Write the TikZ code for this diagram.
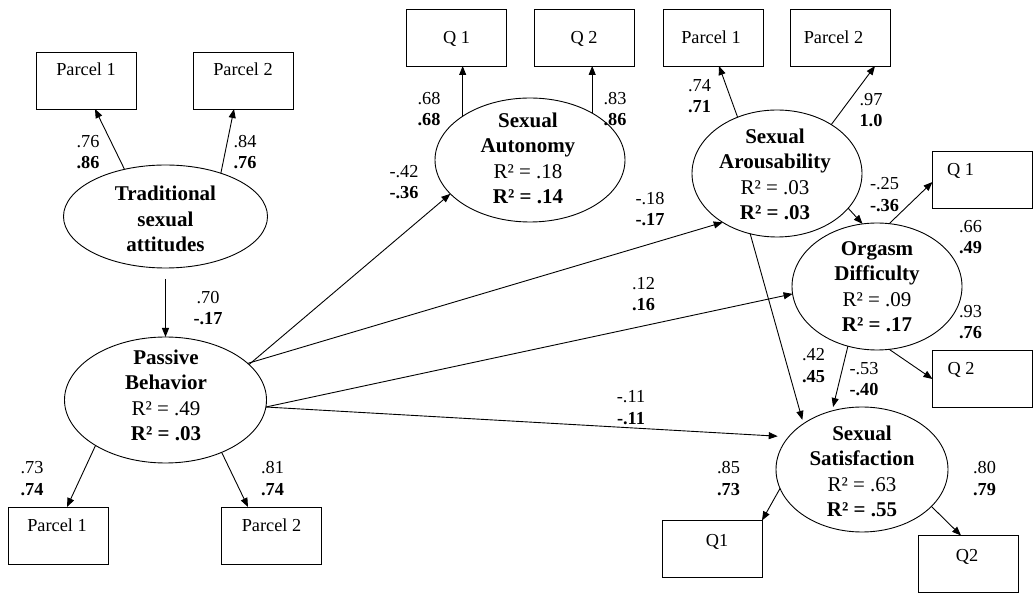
\documentclass[tikz,border=0pt]{standalone}
\usepackage{fontspec}
\setmainfont{Liberation Serif}
\usetikzlibrary{arrows.meta,shapes.geometric}
\begin{document}
\begin{tikzpicture}[x=1pt,y=-1pt,
  lat/.style={ellipse,draw,line width=0.9pt,inner sep=0pt,outer sep=0pt},
  box/.style={rectangle,draw,line width=0.9pt,minimum width=100pt,minimum height=57pt,inner sep=0pt,outer sep=0pt},
  boxtext/.style={anchor=base,inner sep=0pt,font=\fontsize{18.3}{22}\selectfont},
  lattext/.style={align=center,inner sep=0pt,font=\fontsize{21}{25.5}\selectfont},
  coef/.style={align=center,inner sep=0pt,font=\fontsize{18.3}{21.5}\selectfont},
  arr/.style={line width=0.9pt,-{Triangle[length=9pt,width=7pt]}},
]
\path[use as bounding box,fill=white] (0,0) rectangle (1034,593);

% latent variables
\node[lat,minimum width=204pt,minimum height=103pt] (tsa) at (165.5,216.5) {};
\node[lat,minimum width=202pt,minimum height=126pt] (pb) at (165.5,400) {};
\node[lat,minimum width=190pt,minimum height=124pt] (sa) at (530,160) {};
\node[lat,minimum width=170pt,minimum height=127pt] (ar) at (777,173.5) {};
\node[lat,minimum width=170pt,minimum height=127pt] (od) at (877,286.5) {};
\node[lat,minimum width=172pt,minimum height=125pt] (ss) at (862,469.5) {};

\node[lattext] (tsat) at (165.5,219) {\textbf{Traditional}\\\textbf{sexual}\\\textbf{attitudes}};
\node[lattext] (pbt) at (166,395.5) {\textbf{Passive}\\\textbf{Behavior}\\R² = .49\\\textbf{R² = .03}};
\node[lattext] (sat) at (528,158.5) {\textbf{Sexual}\\\textbf{Autonomy}\\R² = .18\\\textbf{R² = .14}};
\node[lattext] (art) at (775,174.5) {\textbf{Sexual}\\\textbf{Arousability}\\R² = .03\\\textbf{R² = .03}};
\node[lattext] (odt) at (877,286.5) {\textbf{Orgasm}\\\textbf{Difficulty}\\R² = .09\\\textbf{R² = .17}};
\node[lattext] (sst) at (862,471.5) {\textbf{Sexual}\\\textbf{Satisfaction}\\R² = .63\\\textbf{R² = .55}};

% indicators
\node[box] (tp1) at (86.5,80.5) {};
\node[box] (tp2) at (243,80.5) {};
\node[box] (bp1) at (58,535.5) {};
\node[box] (bp2) at (271.5,535.5) {};
\node[box] (aq1) at (456.5,37.5) {};
\node[box] (aq2) at (584,37.5) {};
\node[box] (rp1) at (713,37.5) {};
\node[box] (rp2) at (840.5,37.5) {};
\node[box] (oq1) at (982.5,180) {};
\node[box] (oq2) at (982.5,379) {};
\node[box] (sq1) at (712,549) {};
\node[box] (sq2) at (968,564) {};

\node[boxtext] (tp1t) at (86,76) {Parcel 1};
\node[boxtext] (tp2t) at (243,76) {Parcel 2};
\node[boxtext] (bp1t) at (57,531) {Parcel 1};
\node[boxtext] (bp2t) at (271.5,531) {Parcel 2};
\node[boxtext] (aq1t) at (456.5,44) {Q 1};
\node[boxtext] (aq2t) at (584,44) {Q 2};
\node[boxtext] (rp1t) at (711,44) {Parcel 1};
\node[boxtext] (rp2t) at (833.5,44) {Parcel 2};
\node[boxtext] (oq1t) at (960.5,176) {Q 1};
\node[boxtext] (oq2t) at (961,375) {Q 2};
\node[boxtext] (sq1t) at (717,546) {Q1};
\node[boxtext] (sq2t) at (967,561) {Q2};

% connectors
\draw[arr] (tsa.131) -- ([xshift=8.5pt]tp1.south);
\draw[arr] (tsa.38) -- ([xshift=-9pt]tp2.south);
\draw[arr,shorten <=11pt] (tsa.south) -- (pb.north);
\draw[arr] (pb.213) -- ([xshift=9pt]bp1.north);
\draw[arr] (pb.317) -- ([xshift=-23.5pt]bp2.north);
\draw[arr] (pb.23) -- (sa.203);
\draw[arr] (pb.24) -- (ar.222);
\draw[arr] (pb.356) -- (od.185);
\draw[arr,shorten >=11pt] (pb.356) -- (ss.156);
\draw[arr] (sa.147) -- (sa.147 |- aq1.south);
\draw[arr] (sa.37) -- (sa.37 |- aq2.south);
\draw[arr] (ar.125) -- ([xshift=6pt]rp1.south);
\draw[arr] (ar.42) -- ([xshift=34.5pt]rp2.south);
\draw[arr] (ar.334) -- (od.103);
\draw[arr,shorten >=4pt] (ar.246) -- (ss.142);
\draw[arr] (od.79) -- ([yshift=-2pt]oq1.west);
\draw[arr] (od.281) -- (oq2.west);
\draw[arr,shorten >=4pt] (od.244) -- (ss.117);
\draw[arr] (ss.193) -- (sq1.north east);
\draw[arr] (ss.332) -- ([xshift=-7pt]sq2.north);

% coefficients
\node[coef] (c1) at (88,152) {.76\\\textbf{.86}};
\node[coef] (c2) at (245,152) {.84\\\textbf{.76}};
\node[coef] (c3) at (208,308) {.70\\\textbf{-.17}};
\node[coef] (c4) at (32,478.5) {.73\\\textbf{.74}};
\node[coef] (c5) at (272.5,478.5) {.81\\\textbf{.74}};
\node[coef] (c6) at (429,109) {.68\\\textbf{.68}};
\node[coef] (c7) at (615,109) {.83\\\textbf{.86}};
\node[coef] (c8) at (404,182) {-.42\\\textbf{-.36}};
\node[coef] (c9) at (699.5,96) {.74\\\textbf{.71}};
\node[coef] (c10) at (871,110) {.97\\\textbf{1.0}};
\node[coef] (c11) at (650,209) {-.18\\\textbf{-.17}};
\node[coef] (c12) at (884.5,194.5) {-.25\\\textbf{-.36}};
\node[coef] (c13) at (970.5,237) {.66\\\textbf{.49}};
\node[coef] (c14) at (970.5,322) {.93\\\textbf{.76}};
\node[coef] (c15) at (643.5,294) {.12\\\textbf{.16}};
\node[coef] (c16) at (813.5,365.5) {.42\\\textbf{.45}};
\node[coef] (c17) at (864,379) {-.53\\\textbf{-.40}};
\node[coef] (c18) at (631,407.5) {-.11\\\textbf{-.11}};
\node[coef] (c19) at (728.5,478.5) {.85\\\textbf{.73}};
\node[coef] (c20) at (984.5,478.5) {.80\\\textbf{.79}};
\end{tikzpicture}
\end{document}
